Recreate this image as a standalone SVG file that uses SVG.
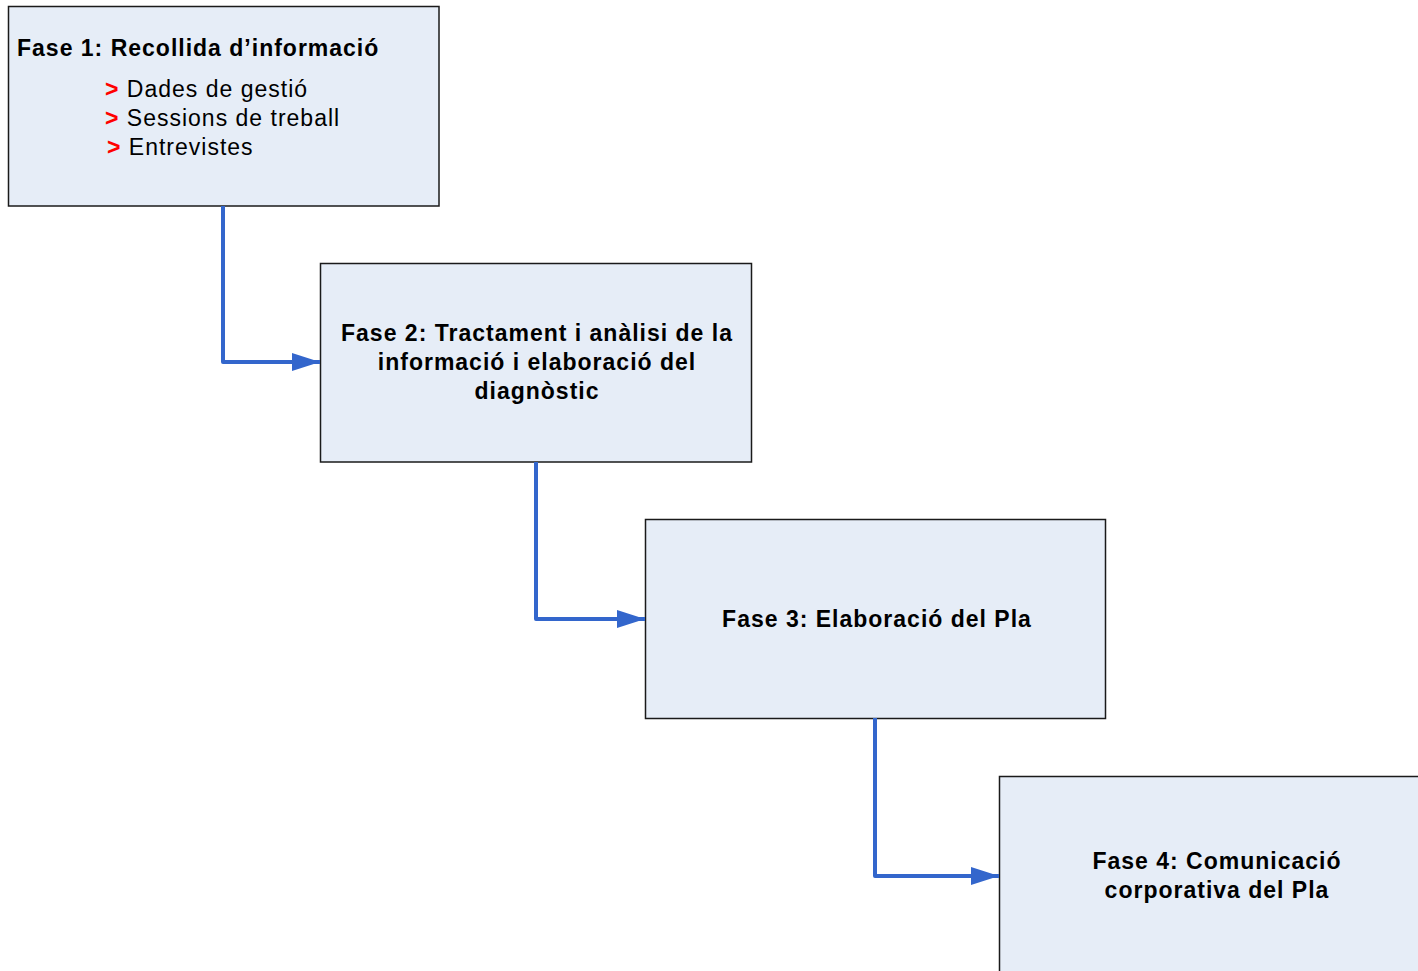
<svg xmlns="http://www.w3.org/2000/svg" width="1418" height="971" viewBox="0 0 1418 971">
<style>
.box{fill:#E6EDF7;stroke:#1a1a1a;stroke-width:1.5}
.t{font-family:"Liberation Sans",Arial,sans-serif;font-size:23px;letter-spacing:1px;fill:#000}
.b{font-weight:bold}
.c{text-anchor:middle}
.r{fill:#FF0000;font-weight:bold}
.conn{fill:none;stroke:#3366CC;stroke-width:4;stroke-linejoin:round}
</style>
<defs>
<marker id="arr" markerUnits="userSpaceOnUse" markerWidth="30" markerHeight="20" refX="28" refY="10" orient="auto">
<path d="M0,1 L28,10 L0,19 Z" fill="#3366CC"/>
</marker>
</defs>
<rect width="1418" height="971" fill="#fff"/>
<g id="n1">
<rect class="box" x="8.5" y="6.5" width="430.5" height="199.5"/>
<text class="t b" x="17" y="56">Fase 1: Recollida d’informació</text>
<text class="t" x="105" y="97"><tspan class="r">&gt;</tspan> Dades de gestió</text>
<text class="t" x="105" y="126"><tspan class="r">&gt;</tspan> Sessions de treball</text>
<text class="t" x="107" y="155"><tspan class="r">&gt;</tspan> Entrevistes</text>
</g>
<g id="n2">
<rect class="box" x="320.5" y="263.5" width="431" height="198.5"/>
<text class="t b c" x="537" y="341">Fase 2: Tractament i anàlisi de la</text>
<text class="t b c" x="537" y="370">informació i elaboració del</text>
<text class="t b c" x="537" y="399">diagnòstic</text>
</g>
<g id="n3">
<rect class="box" x="645.5" y="519.5" width="460" height="199"/>
<text class="t b c" x="877" y="627">Fase 3: Elaboració del Pla</text>
</g>
<g id="n4">
<rect class="box" x="999.5" y="776.5" width="430" height="210"/>
<text class="t b c" x="1217" y="869">Fase 4: Comunicació</text>
<text class="t b c" x="1217" y="898">corporativa del Pla</text>
</g>
<g id="connectors">
<path class="conn" d="M223,206 V362 H320" marker-end="url(#arr)"/>
<path class="conn" d="M536,462 V619 H645" marker-end="url(#arr)"/>
<path class="conn" d="M875,718 V876 H999" marker-end="url(#arr)"/>
</g>
</svg>
